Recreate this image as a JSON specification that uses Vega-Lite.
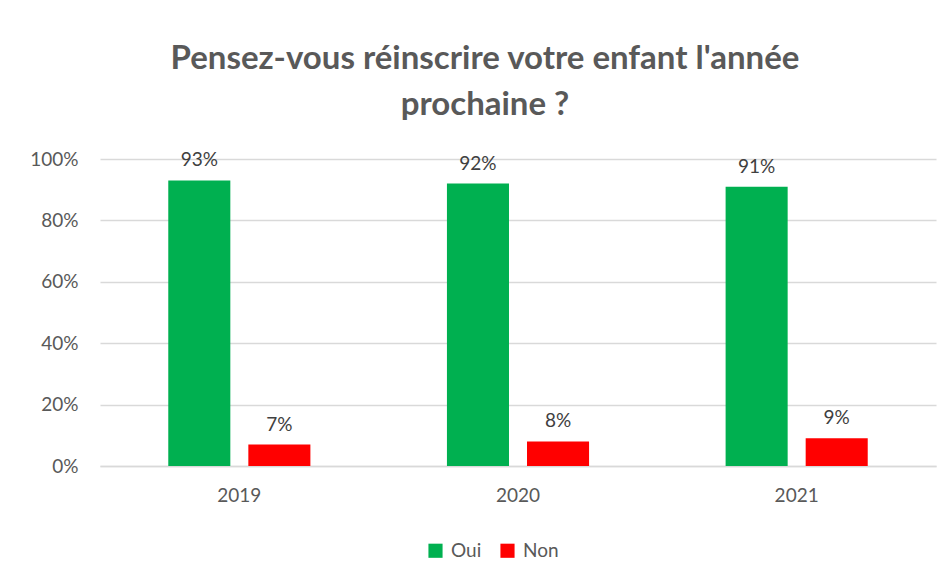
{
  "$schema": "https://vega.github.io/schema/vega-lite/v6.json",
  "width": 836,
  "height": 307,
  "autosize": {"type": "none"},
  "padding": {"left": 100, "top": 159, "right": 13, "bottom": 115},
  "background": "white",
  "title": {
    "text": ["Pensez-vous réinscrire votre enfant l'année", "prochaine ?"],
    "font": "Lato",
    "fontSize": 33,
    "fontWeight": "bold",
    "color": "#595959",
    "anchor": "middle",
    "dx": -33,
    "offset": 28,
    "lineHeight": 46
  },
  "data": {
    "values": [
      {"year": "2019", "rep": "Oui", "v": 0.93},
      {"year": "2019", "rep": "Non", "v": 0.07},
      {"year": "2020", "rep": "Oui", "v": 0.92},
      {"year": "2020", "rep": "Non", "v": 0.08},
      {"year": "2021", "rep": "Oui", "v": 0.91},
      {"year": "2021", "rep": "Non", "v": 0.09}
    ]
  },
  "config": {
    "view": {"stroke": null},
    "font": "Lato"
  },
  "encoding": {
    "x": {
      "field": "year", "type": "nominal",
      "scale": {"paddingInner": 0.49, "paddingOuter": 0.245},
      "axis": {"title": null, "labelAngle": 0, "labelFontSize": 19, "labelColor": "#595959", "labelFont": "Lato", "ticks": false, "domain": true, "domainColor": "#D9D9D9", "domainWidth": 1.5, "labelPadding": 20}
    },
    "xOffset": {"field": "rep", "type": "nominal", "sort": ["Oui", "Non"], "scale": {"paddingInner": 0.225, "paddingOuter": 0}},
    "y": {
      "field": "v", "type": "quantitative",
      "scale": {"domain": [0, 1]},
      "axis": {"title": null, "format": ".0%", "values": [0, 0.2, 0.4, 0.6, 0.8, 1], "labelFontSize": 19, "labelColor": "#595959", "labelFont": "Lato", "ticks": false, "domain": false, "gridColor": "#D9D9D9", "gridWidth": 1.5, "labelPadding": 22}
    }
  },
  "layer": [
    {
      "mark": {"type": "bar"},
      "encoding": {
        "color": {
          "field": "rep", "type": "nominal",
          "sort": ["Oui", "Non"],
          "scale": {"domain": ["Oui", "Non"], "range": ["#00B050", "#FF0000"]},
          "legend": {
            "title": null, "orient": "none", "legendX": 326, "legendY": 382, "direction": "horizontal",
            "symbolType": "square", "symbolSize": 200, "labelFontSize": 19, "labelColor": "#595959", "labelFont": "Lato",
            "columnPadding": 16, "labelOffset": 6, "symbolStrokeWidth": 0
          }
        }
      }
    },
    {
      "mark": {"type": "text", "baseline": "bottom", "dy": -10, "fontSize": 19, "color": "#404040", "font": "Lato"},
      "encoding": {
        "text": {"field": "v", "type": "quantitative", "format": ".0%"}
      }
    }
  ]
}
